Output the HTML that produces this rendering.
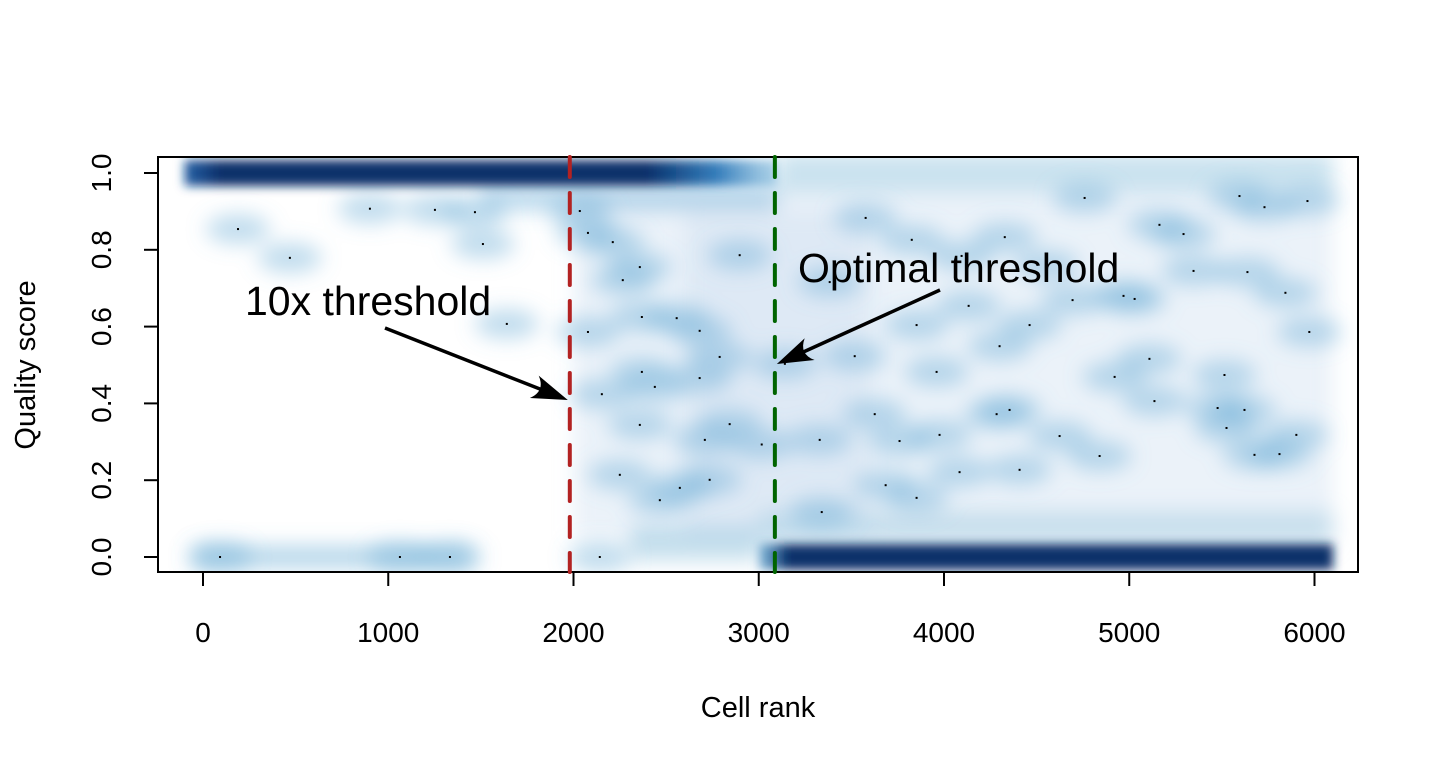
<!DOCTYPE html>
<html><head><meta charset="utf-8"><style>
html,body{margin:0;padding:0;background:#fff;}
svg{display:block;font-family:"Liberation Sans",Arial,sans-serif;}
</style></head><body>
<svg id="chart" width="1440" height="768" viewBox="0 0 1440 768" xmlns="http://www.w3.org/2000/svg">
<defs>
<filter id="blur" x="-20%" y="-50%" width="140%" height="200%"><feGaussianBlur stdDeviation="10"/></filter>
<filter id="blur2" x="-20%" y="-100%" width="140%" height="300%"><feGaussianBlur stdDeviation="5"/></filter>
<linearGradient id="topGrad" x1="0" x2="1" y1="0" y2="0">
<stop offset="0" stop-color="#08519c" stop-opacity="0.9"/>
<stop offset="0.06" stop-color="#08306b" stop-opacity="1"/>
<stop offset="0.78" stop-color="#08306b" stop-opacity="1"/>
<stop offset="0.9" stop-color="#2171b5" stop-opacity="0.9"/>
<stop offset="1" stop-color="#6baed6" stop-opacity="0.5"/>
</linearGradient>
<linearGradient id="botGrad" x1="0" x2="1" y1="0" y2="0">
<stop offset="0" stop-color="#4292c6" stop-opacity="0.6"/>
<stop offset="0.05" stop-color="#08306b" stop-opacity="1"/>
<stop offset="1" stop-color="#08306b" stop-opacity="1"/>
</linearGradient>
<clipPath id="plotClip"><rect x="158" y="157" width="1200" height="415"/></clipPath>
</defs>
<g id="density" clip-path="url(#plotClip)"></g>
<g id="dots"></g>
<g id="axes"></g>
<g id="annot"></g>
</svg>
<script>
const xTicks = [0,1000,2000,3000,4000,5000,6000];
const yTicks = [0.0,0.2,0.4,0.6,0.8,1.0];
const ptRank = [92,1063,1333,2142,189,469,901,1252,1468,1511,1640,2034,2078,2212,2266,2358,2369,2078,2153,2369,2439,2557,2681,2789,2897,3141,3383,3329,3340,3577,3518,3626,3685,3760,3852,3852,3826,3976,3960,4095,4084,4133,4284,4328,4300,4354,4408,4462,4554,4624,4694,4759,4840,4921,4969,5029,5109,5136,5293,5347,5477,5514,5525,5622,5638,5676,5595,5730,5811,5843,5902,5962,5972,5163,2681,2709,2574,2466,2358,2250,2843,2735,3016];
const ptScore = [0,0,0,0,0.854,0.779,0.907,0.904,0.898,0.815,0.607,0.901,0.844,0.820,0.721,0.755,0.625,0.586,0.424,0.482,0.443,0.622,0.589,0.521,0.786,0.503,0.716,0.305,0.117,0.883,0.523,0.372,0.187,0.302,0.154,0.604,0.826,0.318,0.482,0.784,0.221,0.654,0.372,0.833,0.549,0.383,0.227,0.604,0.760,0.315,0.669,0.935,0.263,0.469,0.680,0.672,0.516,0.406,0.841,0.745,0.388,0.474,0.336,0.383,0.742,0.266,0.940,0.911,0.268,0.688,0.318,0.927,0.586,0.865,0.466,0.305,0.180,0.148,0.344,0.214,0.346,0.201,0.293];
const topBand = [-100, 3100];
const bottomBand = [3000, 6100];
const lowBand = [-50, 1450];
const thresh10x = 1980;
const threshOpt = 3087;

const NS="http://www.w3.org/2000/svg";
const X0=203, XS=0.18525, Y0=557, YS=384;
const sx=v=>X0+v*XS, sy=v=>Y0-v*YS;
function mk(tag,attrs,parent){const e=document.createElementNS(NS,tag);for(const k in attrs)e.setAttribute(k,attrs[k]);parent.appendChild(e);return e;}
const dens=document.getElementById('density'), dots=document.getElementById('dots'), axes=document.getElementById('axes'), annot=document.getElementById('annot');

// broad haze in the transition region
const haze=mk('g',{filter:'url(#blur)'},dens);
mk('rect',{x:sx(2000),y:sy(0.95),width:sx(6100)-sx(2000),height:sy(0.05)-sy(0.95),fill:'#c6dbef','fill-opacity':0.35},haze);
mk('rect',{x:sx(2600),y:sy(0.9),width:sx(3600)-sx(2600),height:sy(0.05)-sy(0.9),fill:'#c6dbef','fill-opacity':0.35},haze);
mk('rect',{x:sx(topBand[1]),y:sy(1)-20,width:sx(6100)-sx(topBand[1]),height:40,fill:'#9ecae1','fill-opacity':0.55},haze);
mk('rect',{x:sx(2300),y:sy(0.08),width:sx(bottomBand[0])-sx(2300),height:34,fill:'#9ecae1','fill-opacity':0.6},haze);
mk('rect',{x:sx(3000),y:sy(0.12),width:sx(6100)-sx(3000),height:36,fill:'#9ecae1','fill-opacity':0.45},haze);
mk('rect',{x:sx(lowBand[0]),y:sy(0)-11,width:sx(lowBand[1])-sx(lowBand[0]),height:22,fill:'#6baed6','fill-opacity':0.5},haze);
mk('rect',{x:sx(1500),y:sy(0.97),width:sx(3100)-sx(1500),height:26,fill:'#6baed6','fill-opacity':0.45},haze);

// soft clouds
const cloud=mk('g',{filter:'url(#blur)'},dens);


for(let i=0;i<ptRank.length;i++){
  const c=mk('ellipse',{cx:sx(ptRank[i]),cy:sy(ptScore[i]),rx:32,ry:15,fill:'#6baed6','fill-opacity':0.42},cloud);
  
  
}
// main bands
const bands=mk('g',{filter:'url(#blur2)'},dens);
const tb=mk('rect',{x:sx(topBand[0]),y:sy(1)-13,width:sx(topBand[1])-sx(topBand[0]),height:26,fill:'url(#topGrad)'},bands);


const bb=mk('rect',{x:sx(bottomBand[0]),y:sy(0)-13,width:sx(bottomBand[1])-sx(bottomBand[0]),height:26,fill:'url(#botGrad)'},bands);



// dots
for(let i=0;i<ptRank.length;i++){
  const d=mk('rect',{x:sx(ptRank[i])-1,y:sy(ptScore[i])-1,width:2,height:2,fill:'#000'},dots);
  
  
}

// threshold lines
const rl=mk('line',{x1:sx(thresh10x),x2:sx(thresh10x),y1:157,y2:572,stroke:'#b22222','stroke-width':4,'stroke-dasharray':'20 16','stroke-linecap':'round'},annot);


const gl=mk('line',{x1:sx(threshOpt),x2:sx(threshOpt),y1:157,y2:572,stroke:'#006400','stroke-width':4,'stroke-dasharray':'20 16','stroke-linecap':'round'},annot);



// axes box
const box=mk('rect',{x:158,y:157,width:1200,height:415,fill:'none',stroke:'#000','stroke-width':2},axes);


mk('line',{x1:sx(0),x2:sx(6000),y1:572,y2:572,stroke:'#000','stroke-width':2},axes);
xTicks.forEach(t=>{
  mk('line',{x1:sx(t),x2:sx(t),y1:572,y2:586,stroke:'#000','stroke-width':2},axes);
  const tx=mk('text',{x:sx(t),y:642,'text-anchor':'middle','font-size':28},axes);
  tx.textContent=String(t);
  
  
});
yTicks.forEach(t=>{
  mk('line',{x1:144,x2:158,y1:sy(t),y2:sy(t),stroke:'#000','stroke-width':2},axes);
  const tx=mk('text',{x:0,y:0,'text-anchor':'middle','font-size':28,transform:`translate(111,${sy(t)}) rotate(-90)`},axes);
  tx.textContent=t.toFixed(1);
  
  
});
const xt=mk('text',{x:758,y:717,'text-anchor':'middle','font-size':29},axes);
xt.textContent='Cell rank';


const yt=mk('text',{x:0,y:0,'text-anchor':'middle','font-size':29,transform:'translate(35,365) rotate(-90)'},axes);
yt.textContent='Quality score';



// annotations
function arrow(x1,y1,x2,y2,name){
  const g=mk('g',{},annot);
  
  
  const ang=Math.atan2(y2-y1,x2-x1);
  const L=36,W=12;
  const bx=x2-L*Math.cos(ang), by=y2-L*Math.sin(ang);
  mk('line',{x1:x1,y1:y1,x2:x2-20*Math.cos(ang),y2:y2-20*Math.sin(ang),stroke:'#000','stroke-width':3.5},g);
  const px=-Math.sin(ang), py=Math.cos(ang);
  const mx=x2-24*Math.cos(ang), my=y2-24*Math.sin(ang);
  mk('path',{d:`M${x2},${y2} L${bx+W*px},${by+W*py} Q${mx},${my} ${bx-W*px},${by-W*py} Z`,fill:'#000'},g);
}
arrow(385,328,sx(thresh10x)-2,400,'arrow-10x');
arrow(940,290,sx(threshOpt)+2,364,'arrow-optimal');
const t1=mk('text',{x:245,y:315,'font-size':41},annot);
t1.textContent='10x threshold';


const t2=mk('text',{x:798,y:282,'font-size':41},annot);
t2.textContent='Optimal threshold';


</script>
</body></html>
